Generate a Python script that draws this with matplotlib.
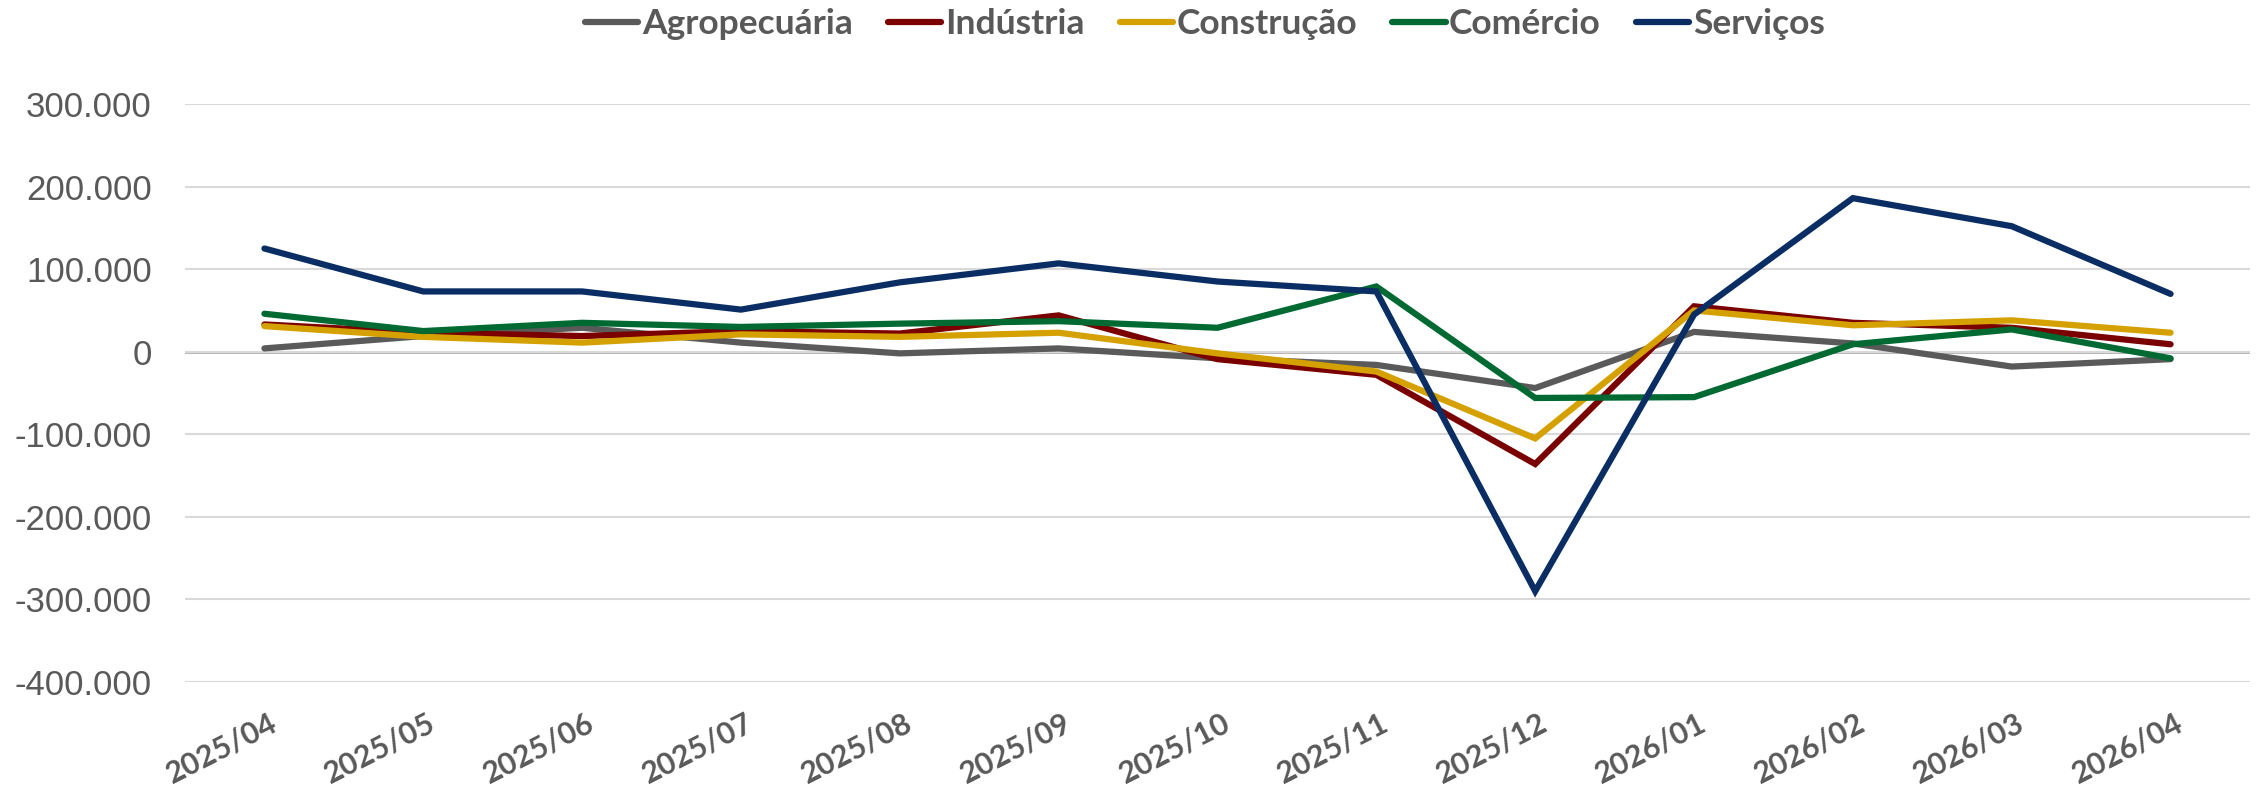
import matplotlib
matplotlib.use('Agg')
import matplotlib.pyplot as plt
import matplotlib.transforms as mtransforms
from matplotlib.ticker import FuncFormatter

# dados (saldo mensal por setor)
meses = ['2025/04', '2025/05', '2025/06', '2025/07', '2025/08', '2025/09', '2025/10',
         '2025/11', '2025/12', '2026/01', '2026/02', '2026/03', '2026/04']
agropecuaria = [4000, 19000, 29000, 11000, -2000, 4000, -8000, -16000, -44000, 24000, 10000, -18000, -9000]
industria = [33000, 23000, 19000, 25000, 22000, 44000, -9000, -28000, -136000, 55000, 35000, 29000, 9000]
construcao = [31000, 18000, 11000, 21000, 18000, 23000, -2000, -24000, -105000, 50000, 32000, 38000, 23000]
comercio = [46000, 25000, 35000, 30000, 34000, 37000, 29000, 79000, -56000, -55000, 9000, 27000, -8000]
servicos = [125000, 73000, 73000, 51000, 84000, 107000, 85000, 73000, -290000, 45000, 186000, 152000, 70000]

series = [
    ('Agropecuária', agropecuaria, '#5a5a5a'),
    ('Indústria', industria, '#7a0000'),
    ('Construção', construcao, '#d4a100'),
    ('Comércio', comercio, '#006a32'),
    ('Serviços', servicos, '#0a2e64'),
]

W, H = 2257, 793
fig = plt.figure(figsize=(W / 100, H / 100), dpi=100)
ax = fig.add_axes([185 / W, 1 - 682 / H, (2250 - 185) / W, (682 - 104) / H])

x = list(range(len(meses)))
for nome, vals, cor in series:
    ax.plot(x, vals, color=cor, linewidth=4.5, label=nome, solid_capstyle='round',
            solid_joinstyle='miter', zorder=3)

ax.set_xlim(-0.5, len(meses) - 0.5)
ax.set_ylim(-400000, 300000)
ax.set_yticks(range(-400000, 300001, 100000))
ax.yaxis.set_major_formatter(FuncFormatter(lambda v, p: f'{int(v):,}'.replace(',', '.')))
ax.grid(axis='y', color='#d9d9d9', linewidth=1.5, zorder=0)
ax.axhline(0, color='#a0a0a0', linewidth=1.8, zorder=1)
for s in ax.spines.values():
    s.set_visible(False)
ax.tick_params(axis='both', length=0)
ax.tick_params(axis='y', pad=24, labelsize=25, labelcolor='#595959')
for lab in ax.get_yticklabels():
    lab.set_fontfamily('Liberation Sans')

ax.set_xticks(x)
ax.set_xticklabels(meses, rotation=27, ha='right', rotation_mode='anchor',
                   fontsize=22, fontweight='bold', color='#595959', family='Lato')
ax.tick_params(axis='x', pad=19)
offset = mtransforms.ScaledTranslation(4 / 100, 0, fig.dpi_scale_trans)
for lab in ax.get_xticklabels():
    lab.set_transform(lab.get_transform() + offset)

leg = ax.legend(loc='center', bbox_to_anchor=(1205 / W, 1 - 24 / H),
                bbox_transform=fig.transFigure, ncol=5, frameon=False,
                handlelength=1.5, handletextpad=0.1, columnspacing=1.0,
                prop={'family': 'Lato', 'weight': 'bold', 'size': 25.5})
for t in leg.get_texts():
    t.set_color('#595959')
for h in leg.get_lines():
    h.set_linewidth(4.5)

fig.savefig('out.png', dpi=100)
